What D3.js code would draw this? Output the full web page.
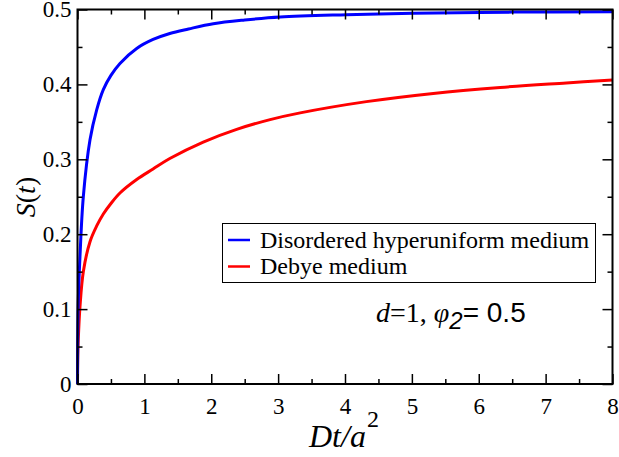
<!DOCTYPE html>
<html><head><meta charset="utf-8">
<script src="https://cdn.jsdelivr.net/npm/d3@7"></script>
<style>
body{margin:0;background:#fff}
svg text, svg tspan {font-family:"Liberation Serif"}
svg .sans {font-family:"Liberation Sans"}
</style>
</head><body>
<svg id="c" width="619" height="457" font-family="Liberation Serif"></svg>
<script>
const hyperT = [0, 0.004, 0.012, 0.037, 0.087, 0.187, 0.287, 0.386, 0.5, 0.635, 0.885, 1.13, 1.38, 1.66, 2.03, 2.5, 3.03, 4.02, 5.02, 6.5, 8];
const hyperS = [0, 0.07, 0.112, 0.17, 0.25, 0.326, 0.366, 0.393, 0.412, 0.428, 0.448, 0.460, 0.468, 0.474, 0.481, 0.486, 0.490, 0.493, 0.495, 0.4965, 0.497];
const debyeT = [0, 0.003, 0.012, 0.037, 0.087, 0.187, 0.287, 0.386, 0.5, 0.635, 0.885, 1.13, 1.38, 1.88, 2.38, 2.88, 3.33, 4.32, 5.32, 6.32, 7.31, 8];
const debyeS = [0, 0.03, 0.06, 0.103, 0.150, 0.190, 0.211, 0.227, 0.241, 0.255, 0.273, 0.287, 0.301, 0.323, 0.340, 0.353, 0.362, 0.377, 0.388, 0.396, 0.402, 0.406];
const xTicks = [0, 1, 2, 3, 4, 5, 6, 7, 8];
const yTicks = [0, 0.1, 0.2, 0.3, 0.4, 0.5];
const seriesNames = ["Disordered hyperuniform medium", "Debye medium"];
const seriesColors = ["#0000ff", "#ff0000"];

const SERIF = "Liberation Serif", SANS = "Liberation Sans";
const svg = d3.select("#c");
const L = 77.5, R = 612.5, T = 9.5, B = 384;
const x = d3.scaleLinear().domain([0, 8]).range([L, R]);
const y = d3.scaleLinear().domain([0, 0.5]).range([B, T]);

const minorX = d3.range(0, 8.01, 0.5).filter(v => !xTicks.includes(v));
const minorY = d3.range(0, 0.501, 0.05).map(v => +v.toFixed(2)).filter(v => !yTicks.some(t => Math.abs(t - v) < 1e-6));

// curves
const line = d3.line().x(d => x(d[0])).y(d => y(d[1])).curve(d3.curveCatmullRom.alpha(0.5));
const hyper = hyperT.map((t, i) => [t, hyperS[i]]);
const debye = debyeT.map((t, i) => [t, debyeS[i]]);
svg.append("path").datum(debye).attr("d", line).attr("fill", "none").attr("stroke", seriesColors[1]).attr("stroke-width", 3);
svg.append("path").datum(hyper).attr("d", line).attr("fill", "none").attr("stroke", seriesColors[0]).attr("stroke-width", 3);

// axes
const fmtY = d => d === 0 ? "0" : d3.format(".1f")(d);
const axB = d3.axisBottom(x).tickValues(xTicks).tickSize(-10).tickPadding(14).tickFormat(d3.format("d"));
const axT = d3.axisTop(x).tickValues(xTicks).tickSize(-10).tickFormat("");
const axL = d3.axisLeft(y).tickValues(yTicks).tickSize(-10).tickPadding(6).tickFormat(fmtY);
const axR = d3.axisRight(y).tickValues(yTicks).tickSize(-10).tickFormat("");
const mB = d3.axisBottom(x).tickValues(minorX).tickSize(-5).tickFormat("");
const mT = d3.axisTop(x).tickValues(minorX).tickSize(-5).tickFormat("");
const mL = d3.axisLeft(y).tickValues(minorY).tickSize(-5).tickFormat("");
const mR = d3.axisRight(y).tickValues(minorY).tickSize(-5).tickFormat("");

function draw(ax, tr) {
  const g = svg.append("g").attr("transform", tr).call(ax);
  g.attr("font-family", SERIF).attr("font-size", 23);
  g.select(".domain").remove();
  g.selectAll(".tick line").attr("stroke", "#000").attr("stroke-width", 1.5);
  g.selectAll("text").attr("font-family", SERIF).style("font-family", SERIF).attr("font-size", 23).attr("fill", "#000");
  return g;
}
draw(axB, `translate(0,${B})`);
draw(axT, `translate(0,${T})`);
draw(axL, `translate(${L},0)`);
draw(axR, `translate(${R},0)`);
draw(mB, `translate(0,${B})`);
draw(mT, `translate(0,${T})`);
draw(mL, `translate(${L},0)`);
draw(mR, `translate(${R},0)`);

svg.append("rect").attr("x", L).attr("y", T).attr("width", R - L).attr("height", B - T)
  .attr("fill", "none").attr("stroke", "#000").attr("stroke-width", 2);

function serifText(sel) { return sel.attr("font-family", SERIF).style("font-family", SERIF); }

// axis labels
const xl = serifText(svg.append("text")).attr("x", 309).attr("y", 447)
  .attr("font-style", "italic").attr("font-size", 32);
xl.append("tspan").text("Dt/a");
xl.append("tspan").attr("font-style", "normal").attr("font-size", 24).attr("dy", -20).attr("dx", 1).text("2");

const yl = serifText(svg.append("text")).attr("transform", "translate(35,197) rotate(-90)").attr("text-anchor", "middle")
  .attr("font-style", "italic").attr("font-size", 28);
yl.append("tspan").text("S");
yl.append("tspan").attr("font-style", "normal").text("(");
yl.append("tspan").text("t");
yl.append("tspan").attr("font-style", "normal").text(")");

// legend
const lg = svg.append("g");
lg.append("rect").attr("x", 222.5).attr("y", 223.5).attr("width", 373).attr("height", 59)
  .attr("fill", "#fff").attr("stroke", "#000").attr("stroke-width", 1);
seriesNames.forEach((n, i) => {
  const yy = 240 + i * 26.5;
  lg.append("line").attr("x1", 228).attr("x2", 250).attr("y1", yy).attr("y2", yy)
    .attr("stroke", seriesColors[i]).attr("stroke-width", 2.5);
  serifText(lg.append("text")).attr("x", 260).attr("y", yy + 7.5).attr("font-size", 24).text(n);
});

// annotation
const an = serifText(svg.append("text")).attr("x", 376).attr("y", 322).attr("font-size", 28);
an.append("tspan").attr("font-style", "italic").text("d");
an.append("tspan").text("=1, ");
an.append("tspan").attr("font-style", "italic").text("φ");
an.append("tspan").attr("class", "sans").attr("font-family", SANS).attr("font-style", "italic").attr("font-size", 24).attr("dy", 7).text("2");
an.append("tspan").attr("class", "sans").attr("font-family", SANS).attr("dy", -7).text("= 0.5");
</script>
</body></html>
